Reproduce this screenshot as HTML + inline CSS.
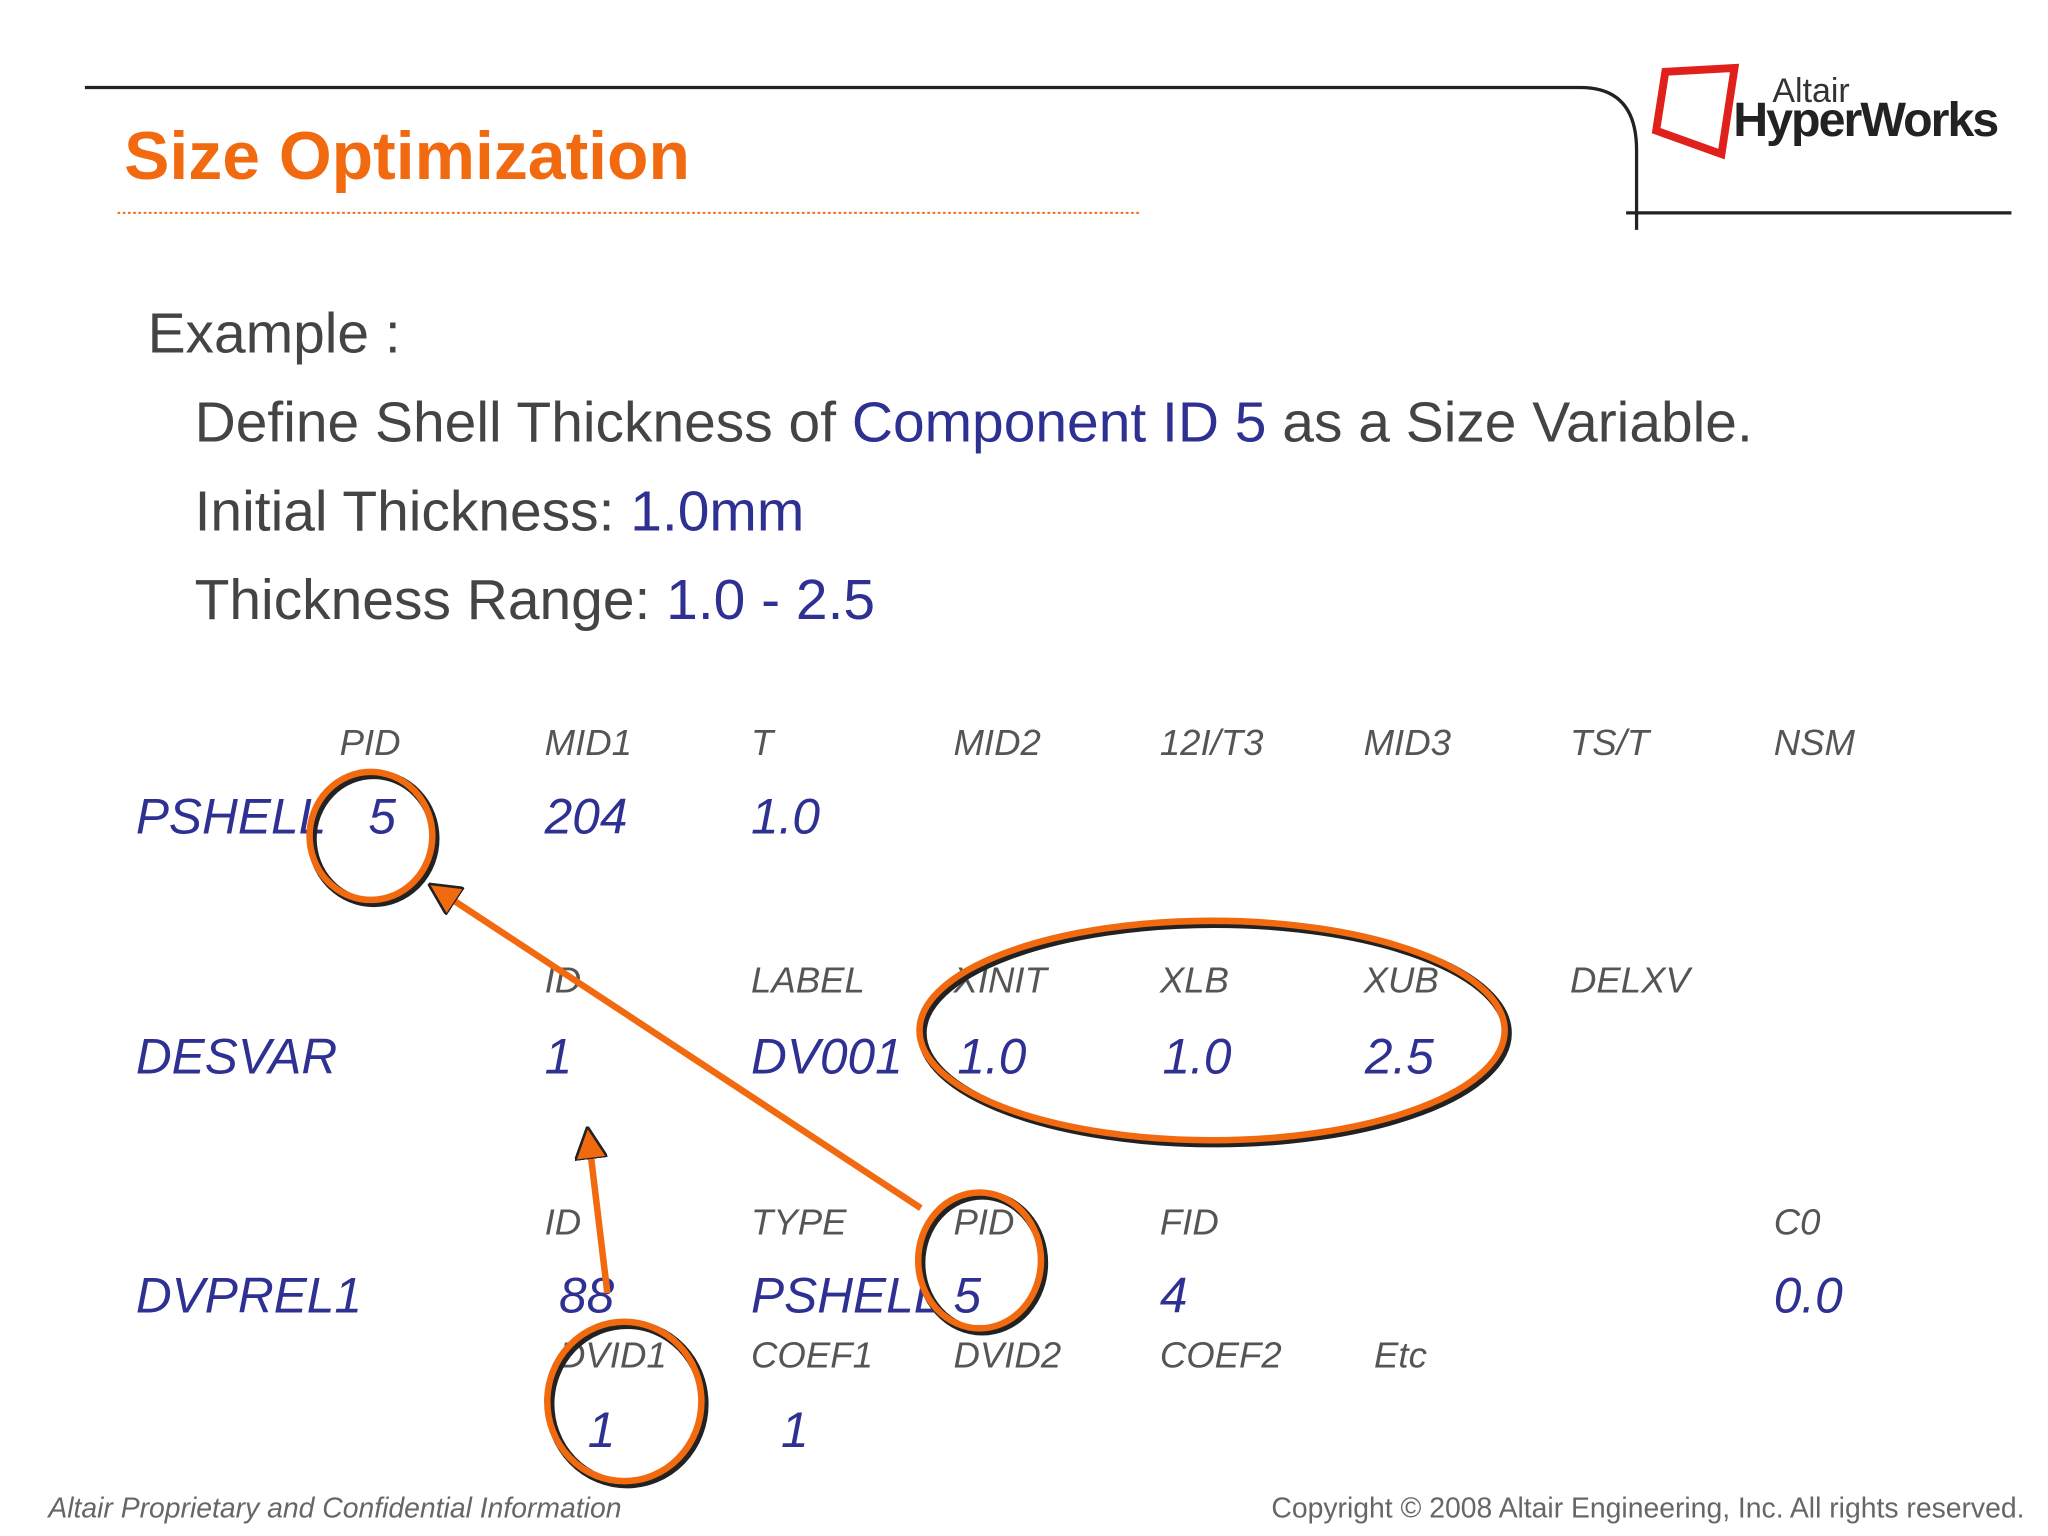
<!DOCTYPE html>
<html><head><meta charset="utf-8"><style>
html,body{margin:0;padding:0;background:#fff;width:2048px;height:1536px;overflow:hidden}
svg{display:block}
.h{font-family:"Liberation Sans",sans-serif;font-style:italic;font-size:28px;fill:#555}
.v{font-family:"Liberation Sans",sans-serif;font-style:italic;font-size:38px;fill:#2e3192}
.t{font-family:"Liberation Sans",sans-serif;font-size:43.6px;fill:#444}
.b{fill:#2e3192}
</style></head><body>
<svg width="2048" height="1536" viewBox="0 0 1568 1176" xmlns="http://www.w3.org/2000/svg">
<defs>
<marker id="ah" viewBox="0 0 10 10" refX="9" refY="5" markerWidth="5" markerHeight="5" orient="auto-start-reverse"><path d="M0,0 L10,5 L0,10 z" fill="#f26a10" stroke="#222" stroke-width="0.8"/></marker>
</defs>
<g fill="none" stroke="#222" stroke-width="2.5">
<path d="M65,67 L1210,67 Q1253,67 1253,115 L1253,176"/>
<path d="M1245,163 L1540,163"/>
</g>
<text x="95" y="137" font-family="Liberation Sans,sans-serif" font-weight="bold" font-size="52" fill="#f26a10">Size Optimization</text>
<line x1="90" y1="163" x2="872" y2="163" stroke="#f26a10" stroke-width="1.5" stroke-dasharray="2,2"/>
<g>
<path d="M1275,55 L1328,52 L1318,118 L1268,100 Z" fill="none" stroke="#e0201b" stroke-width="6"/>
<text x="1357" y="78" font-family="Liberation Sans,sans-serif" font-size="26" fill="#333">Altair</text>
<text x="1327" y="104" font-family="Liberation Sans,sans-serif" font-weight="bold" font-size="37" fill="#222" letter-spacing="-1.5">HyperWorks</text>
</g>
<text class="t" x="113" y="270">Example :</text>
<text class="t" x="149" y="338">Define Shell Thickness of <tspan class="b">Component ID 5</tspan> as a Size Variable.</text>
<text class="t" x="149" y="406">Initial Thickness: <tspan class="b">1.0mm</tspan></text>
<text class="t" x="149" y="474">Thickness Range: <tspan class="b">1.0 - 2.5</tspan></text>
<g>
<text class="h" x="260" y="578">PID</text><text class="h" x="417" y="578">MID1</text><text class="h" x="575" y="578">T</text><text class="h" x="730" y="578">MID2</text><text class="h" x="888" y="578">12I/T3</text><text class="h" x="1044" y="578">MID3</text><text class="h" x="1202" y="578">TS/T</text><text class="h" x="1358" y="578">NSM</text>
<text class="v" x="104" y="638">PSHELL</text><text class="v" x="282" y="638">5</text><text class="v" x="417" y="638">204</text><text class="v" x="575" y="638">1.0</text>
</g>
<g>
<text class="h" x="417" y="760">ID</text><text class="h" x="575" y="760">LABEL</text><text class="h" x="730" y="760">XINIT</text><text class="h" x="888" y="760">XLB</text><text class="h" x="1044" y="760">XUB</text><text class="h" x="1202" y="760">DELXV</text>
<text class="v" x="104" y="822">DESVAR</text><text class="v" x="417" y="822">1</text><text class="v" x="575" y="822">DV001</text><text class="v" x="733" y="822">1.0</text><text class="v" x="890" y="822">1.0</text><text class="v" x="1045" y="822">2.5</text>
</g>
<g>
<text class="h" x="417" y="945">ID</text><text class="h" x="575" y="945">TYPE</text><text class="h" x="730" y="945">PID</text><text class="h" x="888" y="945">FID</text><text class="h" x="1358" y="945">C0</text>
<text class="v" x="104" y="1005">DVPREL1</text><text class="v" x="428" y="1005">88</text><text class="v" x="575" y="1005">PSHELL</text><text class="v" x="730" y="1005">5</text><text class="v" x="888" y="1005">4</text><text class="v" x="1358" y="1005">0.0</text>
<text class="h" x="428" y="1047">DVID1</text><text class="h" x="575" y="1047">COEF1</text><text class="h" x="730" y="1047">DVID2</text><text class="h" x="888" y="1047">COEF2</text><text class="h" x="1052" y="1047">Etc</text>
<text class="v" x="450" y="1108">1</text><text class="v" x="598" y="1108">1</text>
</g>
<g fill="none">
<g stroke="#222" stroke-width="7">
<ellipse cx="286" cy="642" rx="47" ry="49"/><ellipse cx="930" cy="791" rx="224" ry="84"/><ellipse cx="752" cy="967" rx="47" ry="52"/><ellipse cx="480" cy="1075" rx="59" ry="61"/>
</g>
<g stroke="#f26a10" stroke-width="5">
<ellipse cx="284" cy="640" rx="47" ry="49"/><ellipse cx="928" cy="789" rx="224" ry="84"/><ellipse cx="750" cy="965" rx="47" ry="52"/><ellipse cx="478" cy="1073" rx="59" ry="61"/>
</g>
<line x1="705" y1="925" x2="330" y2="678" stroke="#f26a10" stroke-width="5" marker-end="url(#ah)"/>
<line x1="465" y1="990" x2="450" y2="865" stroke="#f26a10" stroke-width="5" marker-end="url(#ah)"/>
</g>
<text x="37" y="1162" font-family="Liberation Sans,sans-serif" font-style="italic" font-size="21.7" fill="#666">Altair Proprietary and Confidential Information</text>
<text x="1550" y="1162" text-anchor="end" font-family="Liberation Sans,sans-serif" font-size="21.7" fill="#666">Copyright © 2008 Altair Engineering, Inc. All rights reserved.</text>
</svg>
</body></html>
